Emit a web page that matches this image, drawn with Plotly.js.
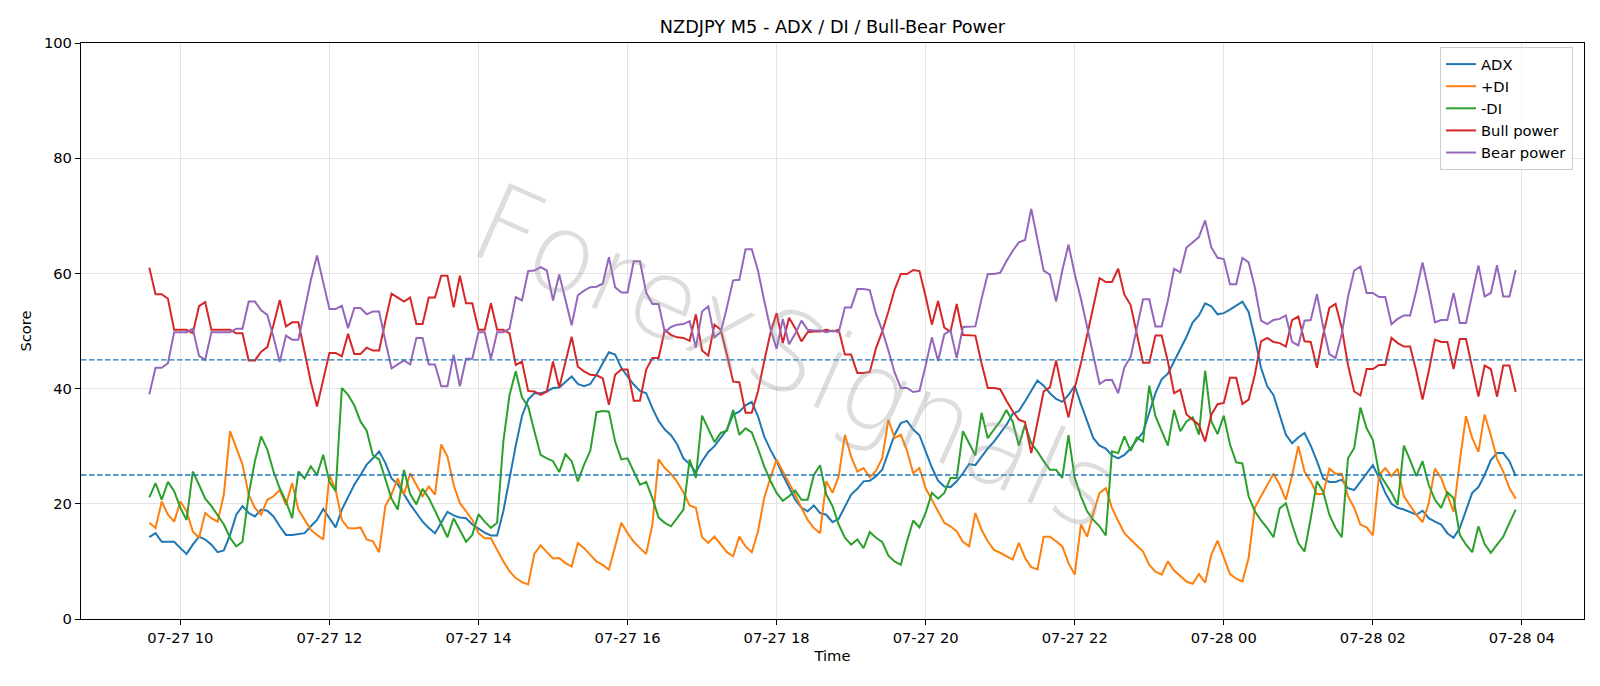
<!DOCTYPE html>
<html>
<head>
<meta charset="utf-8">
<script src="https://cdn.plot.ly/plotly-3.0.1.min.js"></script>
<style>
html,body{margin:0;padding:0;background:#fff;}
#chart{width:1600px;height:686px;}
</style>
</head>
<body>
<div id="chart"></div>
<script>
// Time axis: M5 bars from 2025-07-27 09:35 to 2025-07-28 03:55
const startTime = "2025-07-27T09:35:00Z";
const stepMinutes = 5;

const adx = [14.2,14.9,13.4,13.4,13.4,12.3,11.3,12.9,14.3,13.8,12.9,11.6,11.9,14.6,18.1,19.6,18.4,17.8,19.0,18.8,
17.8,16.1,14.6,14.6,14.7,14.9,16.1,17.2,19.1,17.5,15.9,19.0,21.3,23.3,25.0,26.8,27.9,29.1,27.1,24.4,
23.4,21.6,19.9,18.4,16.9,15.8,14.9,16.7,18.6,18.0,17.6,17.5,16.4,15.7,15.0,14.5,14.5,18.7,24.5,30.1,
35.2,38.1,39.2,39.2,39.5,40.1,40.2,41.2,42.1,40.8,40.4,40.8,42.4,44.4,46.3,45.9,43.6,42.1,40.7,39.6,
39.2,36.6,34.4,32.9,31.9,30.3,27.9,26.9,25.5,27.4,29.0,30.0,31.4,32.9,35.5,36.0,37.1,37.7,35.2,31.7,
29.4,27.4,25.0,22.7,20.7,19.3,18.7,19.7,18.4,18.1,16.8,17.4,19.5,21.6,22.6,23.9,24.0,24.8,25.9,28.8,
32.0,34.0,34.4,32.9,31.9,29.1,26.3,24.0,23.0,22.9,23.9,25.3,26.9,26.7,28.2,29.6,30.8,32.3,33.7,35.6,
36.1,37.8,39.6,41.4,40.5,39.2,38.2,37.7,38.9,40.5,37.3,34.2,31.4,30.1,29.6,28.4,27.9,28.5,29.6,31.1,
32.4,35.8,39.2,41.6,42.6,44.7,46.9,49.0,51.5,52.7,54.8,54.3,52.9,53.1,53.7,54.4,55.1,53.3,48.8,43.6,
40.4,38.9,35.5,32.0,30.5,31.5,32.3,30.1,27.4,24.4,23.8,23.8,24.2,22.7,22.4,23.8,25.2,26.7,24.5,21.9,
20.0,19.3,19.0,18.6,18.1,18.8,17.5,16.9,16.4,14.9,14.1,15.8,19.0,21.9,22.9,25.0,27.6,28.8,28.8,27.4,
24.8];

const plusDI = [16.7,15.8,20.4,18.1,16.9,20.4,18.7,15.2,14.1,18.4,17.5,16.9,21.6,32.6,29.7,26.8,21.6,19.3,18.1,20.7,
21.3,22.4,19.8,23.6,19.0,17.2,15.5,14.6,13.8,25.0,22.4,17.2,15.8,15.7,15.9,13.8,13.5,11.6,19.6,21.6,
24.4,21.6,25.3,23.3,21.3,23.0,21.6,30.3,28.2,23.3,20.1,18.7,17.2,14.9,14.0,14.0,12.0,10.0,8.3,7.1,
6.4,6.0,11.3,12.8,11.6,10.5,10.6,9.7,9.1,13.2,12.3,11.2,10.0,9.4,8.6,12.6,16.7,14.9,13.4,12.3,
11.3,16.4,27.7,26.2,25.2,23.8,22.0,19.7,19.3,14.2,13.2,14.3,12.9,11.6,10.9,14.3,12.6,11.6,15.2,21.0,
24.5,27.7,25.6,23.6,21.6,19.3,17.2,15.8,14.9,23.9,21.9,24.8,32.0,28.2,25.6,26.2,24.6,25.7,27.9,34.6,
31.4,32.0,29.2,25.3,26.2,22.7,20.7,18.7,16.7,16.1,15.2,13.4,12.6,18.4,15.5,13.5,12.0,11.5,10.9,10.3,
13.2,10.6,9.0,8.6,14.3,14.3,13.5,12.6,9.7,7.7,16.4,14.3,18.4,21.9,22.7,19.3,17.0,14.9,13.8,12.8,
11.7,9.4,8.2,7.7,10.0,8.4,7.4,6.5,6.1,7.8,6.3,11.2,13.6,10.6,7.8,7.0,6.5,10.6,19.3,21.3,
23.3,25.2,23.3,20.7,24.9,30.0,25.6,23.9,21.7,21.7,26.1,25.2,25.2,21.3,19.3,16.4,15.9,14.5,25.0,26.2,
24.8,26.1,21.3,19.6,18.1,16.8,20.1,26.1,24.5,21.6,18.6,27.4,35.2,31.4,29.0,35.5,31.9,27.8,25.6,22.7,
20.9];

const minusDI = [21.1,23.6,20.7,23.8,22.2,19.3,17.2,25.6,23.3,20.9,19.6,18.1,16.4,14.1,12.6,13.4,21.6,27.4,31.7,29.4,
25.6,22.7,20.4,17.5,25.6,24.4,26.5,25.0,28.5,23.8,22.2,40.1,38.9,37.1,34.3,32.7,28.4,27.7,24.2,20.9,
19.0,25.9,21.7,19.9,22.6,21.0,18.8,16.4,14.2,17.5,15.3,13.4,14.6,18.2,16.9,15.8,16.7,30.8,38.9,43.0,
38.5,36.9,32.6,28.5,27.9,27.4,25.5,28.6,27.4,23.9,26.8,29.2,35.9,36.1,36.0,30.8,27.7,27.9,25.6,23.3,
23.8,21.0,17.6,16.7,16.1,17.5,19.0,27.7,24.5,35.3,33.1,30.7,32.3,32.7,36.3,32.0,33.1,32.4,29.6,26.5,
24.0,21.9,20.5,21.3,22.3,20.7,20.7,25.0,26.7,21.6,19.6,16.4,14.1,12.9,13.8,12.3,15.1,14.1,13.4,11.0,
10.0,9.4,13.5,17.1,15.9,18.4,21.9,20.9,21.9,24.5,24.5,32.6,30.5,28.4,35.8,31.4,32.9,34.3,36.3,34.3,
30.1,33.7,30.5,29.1,27.4,25.9,25.9,24.5,31.9,24.5,21.3,18.7,17.2,16.1,14.5,29.1,28.8,31.7,29.2,31.5,
30.8,40.5,35.2,32.6,30.1,36.3,32.6,34.3,35.0,32.0,43.1,34.3,32.1,35.3,30.3,27.2,27.0,21.3,18.7,17.1,
15.8,14.2,19.2,20.1,16.4,13.2,11.7,17.5,23.9,22.1,18.1,15.8,14.2,27.9,29.7,36.7,33.1,31.1,25.3,23.6,
21.9,19.8,30.1,27.6,24.8,27.4,23.3,20.7,19.3,22.0,21.0,14.6,12.9,11.6,16.1,13.0,11.5,12.9,14.3,16.7,
19.0];

const bullPower = [61.0,56.4,56.4,55.6,50.2,50.2,50.2,49.6,54.3,55.0,50.2,50.2,50.2,50.2,49.6,49.6,44.9,44.9,46.4,47.2,
51.1,55.4,50.8,51.5,51.5,46.4,41.2,36.9,41.5,46.2,46.2,45.6,49.5,46.0,46.0,47.1,46.6,46.6,51.7,56.5,
55.8,55.1,55.8,51.2,51.2,55.8,55.8,59.6,59.6,54.1,59.6,54.8,54.8,50.2,50.2,54.8,50.2,50.2,49.6,44.1,
44.7,39.6,39.5,38.9,39.5,44.7,40.2,44.7,49.0,43.8,43.0,42.4,42.3,41.8,37.2,42.4,43.3,43.3,37.9,37.9,
43.3,45.3,45.3,50.2,49.3,48.9,48.8,48.3,52.9,46.6,45.7,51.1,50.2,45.9,41.2,41.1,35.8,35.8,39.5,44.7,
49.6,53.1,47.9,52.3,50.5,48.2,49.8,49.9,49.9,50.2,49.9,50.2,45.9,45.9,42.7,42.7,42.9,47.0,49.9,53.4,
57.2,59.9,59.9,60.6,60.4,56.0,51.1,55.2,50.6,49.9,54.7,49.3,49.2,49.2,44.4,40.1,40.1,39.9,37.9,36.1,
34.6,34.2,28.8,34.3,39.5,40.2,44.9,39.5,35.0,40.1,44.4,49.3,54.5,59.2,58.5,58.5,60.8,56.3,54.5,49.3,
44.5,44.5,49.2,49.2,44.7,39.2,39.8,35.5,34.6,33.7,30.8,35.5,37.3,37.5,41.9,41.9,37.3,38.1,42.4,48.2,
48.8,48.1,47.9,47.3,51.9,52.5,48.2,48.1,43.6,49.3,54.0,54.7,50.5,44.1,39.5,38.8,43.4,43.4,44.1,44.1,
48.8,47.9,47.3,47.3,43.0,38.1,43.0,48.5,48.1,48.1,43.4,48.6,48.6,43.5,38.6,44.0,43.4,38.6,44.0,44.0,
39.4];

const bearPower = [39.0,43.6,43.6,44.4,49.8,49.8,49.8,50.4,45.7,45.0,49.8,49.8,49.8,49.8,50.4,50.4,55.1,55.1,53.6,52.8,
48.9,44.6,49.2,48.5,48.5,53.6,58.8,63.1,58.5,53.8,53.8,54.4,50.5,54.0,54.0,52.9,53.4,53.4,48.3,43.5,
44.2,44.9,44.2,48.8,48.8,44.2,44.2,40.4,40.4,45.9,40.4,45.2,45.2,49.8,49.8,45.2,49.8,49.8,50.4,55.9,
55.3,60.4,60.5,61.1,60.5,55.3,59.8,55.3,51.0,56.2,57.0,57.6,57.7,58.2,62.8,57.6,56.7,56.7,62.1,62.1,
56.7,54.7,54.7,49.8,50.7,51.1,51.2,51.7,47.1,53.4,54.3,48.9,49.8,54.1,58.8,58.9,64.2,64.2,60.5,55.3,
50.4,46.9,52.1,47.7,49.5,51.8,50.2,50.1,50.1,49.8,50.1,49.8,54.1,54.1,57.3,57.3,57.1,53.0,50.1,46.6,
42.8,40.1,40.1,39.4,39.6,44.0,48.9,44.8,49.4,50.1,45.3,50.7,50.8,50.8,55.6,59.9,59.9,60.1,62.1,63.9,
65.4,65.8,71.2,65.7,60.5,59.8,55.1,60.5,65.0,59.9,55.6,50.7,45.5,40.8,41.5,41.5,39.2,43.7,45.5,50.7,
55.5,55.5,50.8,50.8,55.3,60.8,60.2,64.5,65.4,66.3,69.2,64.5,62.7,62.5,58.1,58.1,62.7,61.9,57.6,51.8,
51.2,51.9,52.1,52.7,48.1,47.5,51.8,51.9,56.4,50.7,46.0,45.3,49.5,55.9,60.5,61.2,56.6,56.6,55.9,55.9,
51.2,52.1,52.7,52.7,57.0,61.9,57.0,51.5,51.9,51.9,56.6,51.4,51.4,56.5,61.4,56.0,56.6,61.4,56.0,56.0,
60.6];

const seriesNames = ["ADX", "+DI", "-DI", "Bull power", "Bear power"];
const seriesColors = ["#1f77b4", "#ff7f0e", "#2ca02c", "#d62728", "#9467bd"];
const referenceLevels = [45, 25];
const titleText = "NZDJPY M5 - ADX / DI / Bull-Bear Power";
const watermarkText = "ForexSignals";

function fmt(d){
  const p = n => String(n).padStart(2,"0");
  return d.getUTCFullYear()+"-"+p(d.getUTCMonth()+1)+"-"+p(d.getUTCDate())+" "+p(d.getUTCHours())+":"+p(d.getUTCMinutes())+":00";
}
const t0 = new Date(startTime).getTime();
const times = adx.map((_, i) => fmt(new Date(t0 + i*stepMinutes*60000)));

const allSeries = [adx, plusDI, minusDI, bullPower, bearPower];
const traces = allSeries.map((ys, k) => ({
  x: times, y: ys, type: "scatter", mode: "lines", name: seriesNames[k],
  line: {color: seriesColors[k], width: 2}
}));

const FONT = "DejaVu Sans, Liberation Sans, sans-serif";
const shapes = referenceLevels.map(v => ({
  type: "line", xref: "paper", x0: 0, x1: 1, yref: "y", y0: v, y1: v,
  line: {color: "#1f77b4", width: 1.3, dash: "5.5px,2.5px"}
}));

const layout = {
  width: 1600, height: 686,
  margin: {l: 81, r: 16, t: 43, b: 67},
  paper_bgcolor: "#fff", plot_bgcolor: "#fff",
  font: {family: FONT, size: 14.7, color: "#000"},
  title: {text: titleText, x: 0.5, xref: "paper", xanchor: "center", y: 0.9606, yref: "container", yanchor: "middle",
          font: {family: FONT, size: 17.7, color: "#000"}},
  xaxis: {
    type: "date",
    range: ["2025-07-27 08:40:00", "2025-07-28 04:50:00"],
    tick0: "2025-07-27 00:00:00", dtick: 7200000, tickformat: "%m-%d %H",
    ticks: "outside", ticklen: 5, tickwidth: 1, tickcolor: "#000",
    showline: true, linecolor: "#000", linewidth: 1.1, mirror: true,
    showgrid: true, gridcolor: "#e3e3e3", gridwidth: 1, zeroline: false,
    tickfont: {family: FONT, size: 14.7, color: "#000"},
    title: {text: "Time", font: {family: FONT, size: 14.7, color: "#000"}, standoff: 6}
  },
  yaxis: {
    range: [0, 100], dtick: 20, tick0: 0,
    ticks: "outside", ticklen: 5, tickwidth: 1, tickcolor: "#000",
    showline: true, linecolor: "#000", linewidth: 1.1, mirror: true,
    showgrid: true, gridcolor: "#e3e3e3", gridwidth: 1, zeroline: false,
    tickfont: {family: FONT, size: 14.7, color: "#000"},
    title: {text: "Score", font: {family: FONT, size: 14.7, color: "#000"}, standoff: 8}
  },
  legend: {
    x: 0.9927, xanchor: "right", y: 0.993, yanchor: "top",
    bgcolor: "rgba(255,255,255,0.8)", bordercolor: "#cccccc", borderwidth: 1,
    font: {family: FONT, size: 14.7, color: "#000"}
  },
  shapes: shapes,
  annotations: [{
    text: watermarkText, xref: "paper", yref: "paper", x: 0.476, y: 0.455,
    showarrow: false, textangle: 24,
    font: {family: "'DejaVu Sans ExtraLight', 'DejaVu Sans Light', 'DejaVu Sans', sans-serif", size: 110,
           color: "rgba(150,150,150,0.32)", weight: 200}
  }],
  showlegend: true
};

Plotly.newPlot("chart", traces, layout, {staticPlot: true, displayModeBar: false});
</script>
</body>
</html>
